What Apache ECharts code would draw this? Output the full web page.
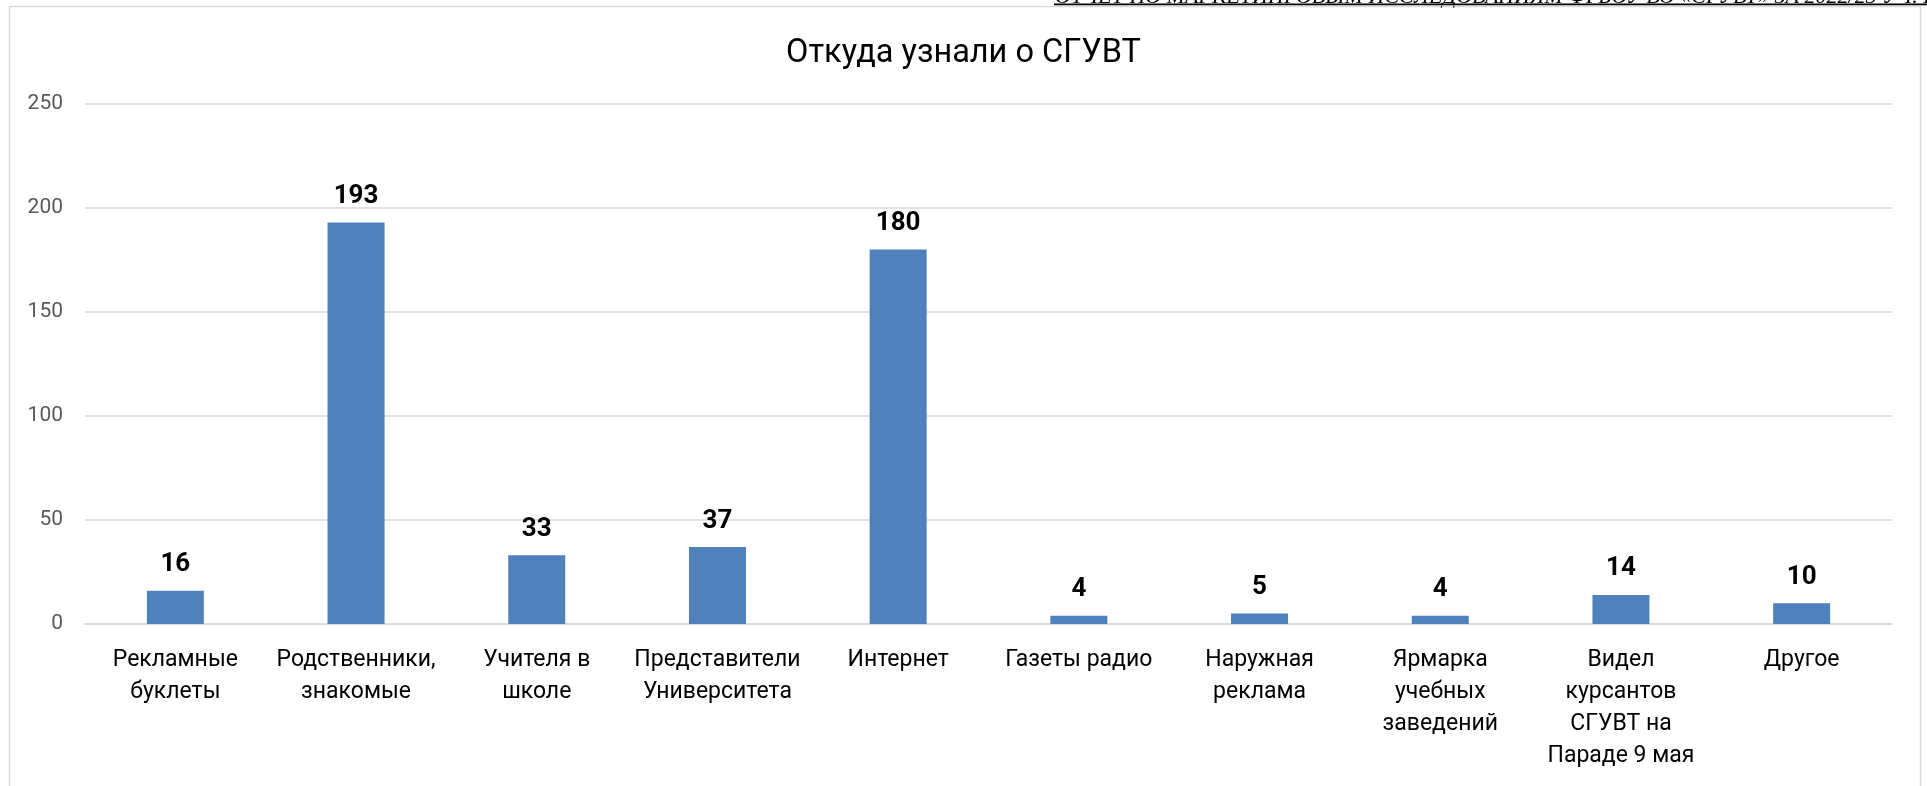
<!DOCTYPE html>
<html>
<head>
<meta charset="utf-8">
<script src="https://cdn.jsdelivr.net/npm/echarts@6/dist/echarts.min.js"></script>
<style>
html,body{margin:0;padding:0;background:#fff;}
#chart{width:1927px;height:786px;}
</style>
</head>
<body>
<div id="chart"></div>
<script>
var titleText = 'Откуда узнали о СГУВТ';
var headerText = 'ОТЧЕТ ПО МАРКЕТИНГОВЫМ ИССЛЕДОВАНИЯМ ФГБОУ ВО «СГУВТ» ЗА 2022/23 УЧ. Г.';
var categories = [
  'Рекламные\nбуклеты',
  'Родственники,\nзнакомые',
  'Учителя в\nшколе',
  'Представители\nУниверситета',
  'Интернет',
  'Газеты радио',
  'Наружная\nреклама',
  'Ярмарка\nучебных\nзаведений',
  'Видел\nкурсантов\nСГУВТ на\nПараде 9 мая',
  'Другое'
];
var values = [16, 193, 33, 37, 180, 4, 5, 4, 14, 10];
var yTicks = [0, 50, 100, 150, 200, 250];

var chart = echarts.init(document.getElementById('chart'));
chart.setOption({
  backgroundColor: '#ffffff',
  animation: false,
  title: {
    text: titleText,
    left: 'center',
    top: 29,
    textStyle: { fontFamily: 'Roboto', fontSize: 32.5, fontWeight: 'normal', color: '#000000', lineHeight: 40 }
  },
  graphic: [
    { type: 'rect', shape: { x: 9.5, y: 6.5, width: 1911, height: 900 }, style: { fill: 'none', stroke: '#d9d9d9', lineWidth: 1.5 }, silent: true },
    { type: 'text', x: 1055, y: 8.5, style: { text: headerText, fontFamily: 'Liberation Serif', fontStyle: 'italic', fontSize: 22, fill: '#000000', verticalAlign: 'bottom', align: 'left' }, silent: true },
    { type: 'line', shape: { x1: 1054, y1: 4.5, x2: 1927, y2: 4.5 }, style: { stroke: '#000000', lineWidth: 2 }, silent: true },
    { type: 'rect', shape: { x: 1040, y: 5.5, width: 887, height: 0.5 }, style: { fill: '#ffffff' }, silent: true }
  ],
  grid: { left: 85, right: 35, top: 104, bottom: 162, containLabel: false },
  xAxis: {
    type: 'category',
    data: categories,
    axisTick: { show: false },
    axisLine: { show: true, lineStyle: { color: '#d9d9d9', width: 1.5 } },
    axisLabel: {
      interval: 0,
      margin: 20,
      fontFamily: 'Roboto',
      fontSize: 23,
      lineHeight: 32,
      color: '#000000',
      align: 'center'
    }
  },
  yAxis: {
    type: 'value',
    min: yTicks[0],
    max: yTicks[yTicks.length - 1],
    interval: 50,
    axisLine: { show: false },
    axisTick: { show: false },
    splitLine: { lineStyle: { color: '#d9d9d9', width: 1.5 } },
    axisLabel: { margin: 22, fontFamily: 'Roboto', fontSize: 21, color: '#595959' }
  },
  series: [{
    type: 'bar',
    data: values,
    barWidth: 57,
    itemStyle: { color: '#4f81bd' },
    label: {
      show: true,
      position: 'top',
      distance: 13,
      fontFamily: 'Roboto',
      fontWeight: 'bold',
      fontSize: 26,
      color: '#000000'
    }
  }]
});
</script>
</body>
</html>
